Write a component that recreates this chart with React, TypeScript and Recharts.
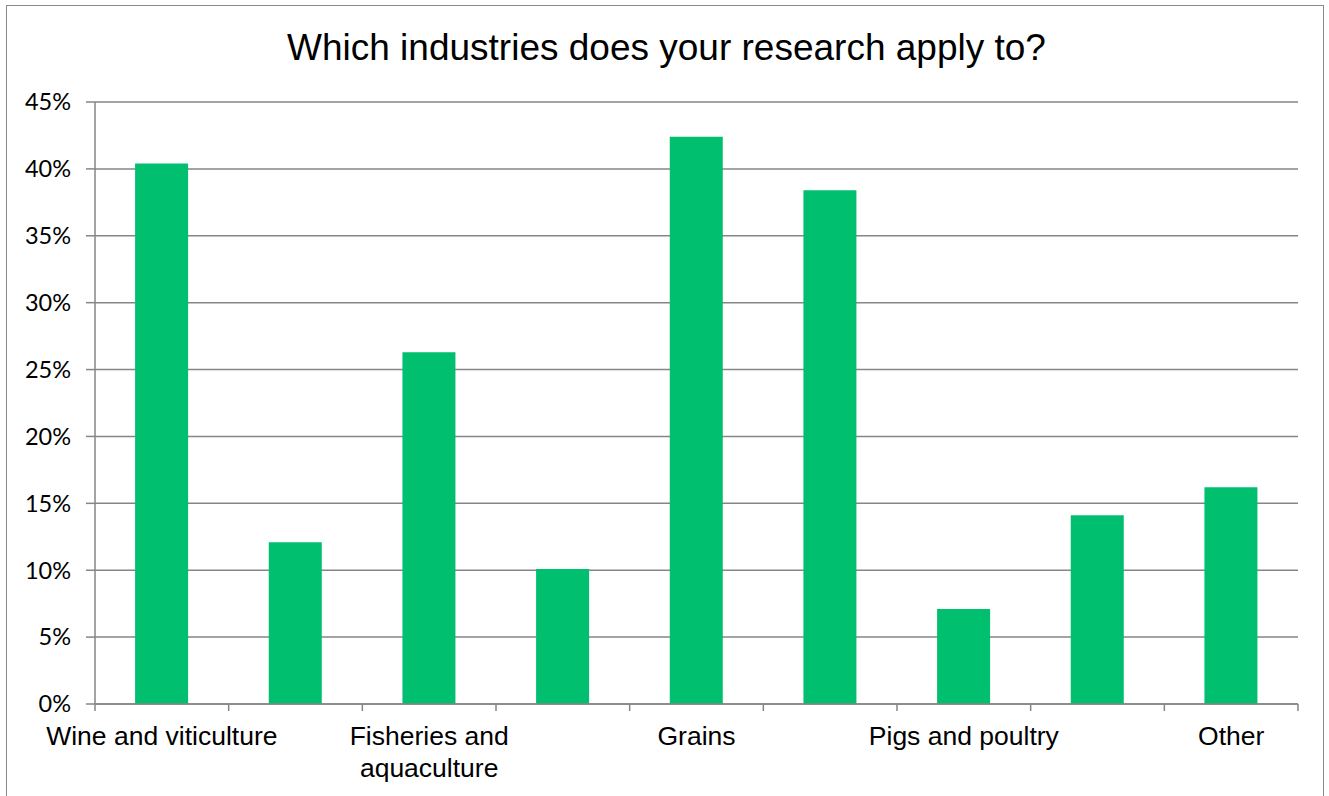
import React from "react";
import { BarChart, Bar, XAxis, YAxis, CartesianGrid } from "recharts";

const industries = [
  "Wine and viticulture",
  "Horticulture",
  "Fisheries and aquaculture",
  "Forestry",
  "Grains",
  "Cotton",
  "Pigs and poultry",
  "Dairy",
  "Other",
];
const shares = [40.4, 12.1, 26.3, 10.1, 42.4, 38.4, 7.1, 14.1, 16.2];
const yTicks = [0, 5, 10, 15, 20, 25, 30, 35, 40, 45];

const data = industries.map((name, i) => ({ name, share: shares[i] }));

const WIDTH = 1329;
const HEIGHT = 796;
const PLOT_LEFT = 95;
const PLOT_RIGHT = 1298;
const PLOT_TOP = 102;
const PLOT_BOTTOM = 704;
const BAND = (PLOT_RIGHT - PLOT_LEFT) / industries.length;
const GRID = "#868686";

// split long category names over two lines, like the spreadsheet does
function wrap(label: string): string[] {
  if (label.length <= 22) return [label];
  const words = label.split(" ");
  const first: string[] = [];
  while (words.length > 1 && [...first, words[0]].join(" ").length <= 14) {
    first.push(words.shift() as string);
  }
  return [first.join(" "), words.join(" ")];
}

// tick marks sit on the band edges, labels on every other band
function CategoryTick(props: any) {
  const { x, payload, index } = props;
  const axisY = PLOT_BOTTOM;
  const left = x - BAND / 2;
  const lines = wrap(String(payload.value));
  return (
    <g>
      <line x1={left} y1={axisY} x2={left} y2={axisY + 7} stroke={GRID} strokeWidth={1.5} />
      {index === industries.length - 1 && (
        <line x1={left + BAND} y1={axisY} x2={left + BAND} y2={axisY + 7} stroke={GRID} strokeWidth={1.5} />
      )}
      {index % 2 === 0 &&
        lines.map((line, i) => (
          <text
            key={i}
            x={x}
            y={axisY + 41 + i * 32}
            textAnchor="middle"
            fontFamily="'Liberation Sans', Arial, sans-serif"
            fontSize={26.5}
            fill="#000"
          >
            {line}
          </text>
        ))}
    </g>
  );
}

export default function App() {
  return (
    <div style={{ position: "absolute", left: 0, top: 0, width: WIDTH, height: HEIGHT, background: "#fff" }}>
      <div
        style={{
          position: "absolute",
          left: 6,
          top: 5,
          width: 1318,
          height: 800,
          border: "1.5px solid #8a8a8a",
          boxSizing: "border-box",
        }}
      />
      <div
        style={{
          position: "absolute",
          left: 0,
          top: 26,
          width: 1333,
          textAlign: "center",
          fontFamily: "'Liberation Sans', Arial, sans-serif",
          fontSize: 37,
          lineHeight: "44px",
          color: "#000",
        }}
      >
        Which industries does your research apply to?
      </div>
      <BarChart
        width={WIDTH}
        height={HEIGHT}
        data={data}
        margin={{ top: PLOT_TOP, right: WIDTH - PLOT_RIGHT, bottom: 0, left: 0 }}
        barCategoryGap="30%"
        style={{ position: "absolute", left: 0, top: 0 }}
      >
        <CartesianGrid vertical={false} stroke={GRID} strokeWidth={1.5} />
        <XAxis
          dataKey="name"
          interval={0}
          tickLine={false}
          tick={<CategoryTick />}
          axisLine={{ stroke: GRID, strokeWidth: 1.5 }}
          height={HEIGHT - PLOT_BOTTOM}
        />
        <YAxis
          width={PLOT_LEFT}
          domain={[0, 45]}
          ticks={yTicks}
          interval={0}
          tickFormatter={(v: number) => `${v}%`}
          tickSize={9}
          tickMargin={15}
          tickLine={{ stroke: GRID, strokeWidth: 1.5 }}
          axisLine={{ stroke: GRID, strokeWidth: 1.5 }}
          tick={{ fill: "#000", fontSize: 23.5, fontFamily: "Lato, 'Open Sans', sans-serif" }}
        />
        <Bar dataKey="share" fill="#00BF6F" isAnimationActive={false} />
      </BarChart>
    </div>
  );
}
